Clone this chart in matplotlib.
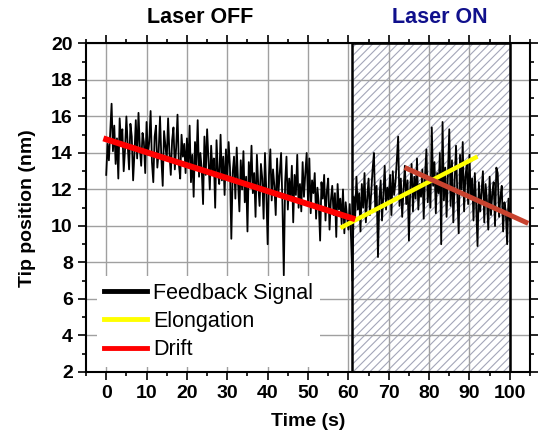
"""
Tip position vs time, laser OFF / laser ON
"""
import numpy as np
import matplotlib
matplotlib.use('Agg')
import matplotlib.pyplot as plt
from matplotlib.ticker import MultipleLocator

plt.rcParams['font.family'] = ['Liberation Sans', 'DejaVu Sans']
plt.rcParams['hatch.linewidth'] = 0.8

tip_nm = [
    # 0-10 s
    12.8, 14.5, 13.6, 15.2, 16.7, 14.1, 15.5, 13.4, 14.8, 12.6, 15.9, 14.6, 15.3, 13.0, 14.2,
    16.0, 14.4, 13.1, 15.6, 14.9, 12.5, 14.0, 15.8, 13.7, 16.2, 14.3, 13.3, 15.1, 14.6, 12.9,
    # 10-20 s
    15.7, 13.9, 14.6, 16.3, 13.5, 12.4, 14.9, 15.5, 13.2, 14.1, 16.0, 13.7, 12.2, 15.2, 14.4,
    13.6, 15.9, 14.0, 12.8, 14.7, 15.4, 13.1, 14.3, 16.1, 13.4, 12.6, 15.0, 13.8, 14.5, 12.9,
    # 20-30 s
    14.8, 13.2, 15.5, 12.4, 13.9, 11.6, 14.6, 13.3, 15.8, 12.7, 14.0, 13.1, 11.2, 14.9, 12.8,
    15.3, 13.6, 12.0, 14.4, 12.9, 13.7, 11.0, 14.7, 13.0, 12.3, 15.0, 12.5, 13.8, 11.7, 14.2,
    # 30-40 s
    12.6, 14.6, 13.2, 9.3, 12.9, 13.8, 11.5, 14.3, 12.4, 10.8, 13.6, 12.0, 14.1, 11.3, 12.7,
    9.7, 13.5, 12.2, 14.4, 11.8, 12.9, 10.5, 13.9, 12.3, 11.1, 13.4, 12.6, 10.4, 14.0, 11.9,
    # 40-50 s
    9.0, 12.8, 14.2, 11.4, 13.1, 12.2, 10.6, 13.7, 11.8, 12.9, 14.0, 11.2, 7.3, 12.4, 13.8,
    10.9, 12.6, 11.5, 13.3, 10.2, 12.8, 11.7, 13.9, 11.0, 12.3, 10.8, 13.5, 11.6, 12.9, 14.0,
    # 50-60 s
    11.3, 13.7, 10.7, 12.5, 11.8, 12.9, 10.4, 12.1, 11.2, 9.2, 12.4, 11.5, 12.8, 10.3, 11.9,
    12.6, 9.8, 11.4, 12.2, 10.6, 11.8, 9.4, 12.3, 10.9, 11.5, 10.1, 12.0, 9.6, 11.3, 10.5,
    # 60-70 s
    9.8, 11.2, 9.3, 7.0, 11.6, 10.4, 12.7, 10.9, 11.8, 9.7, 12.3, 11.0, 12.9, 10.2, 11.5,
    12.6, 10.6, 11.9, 13.1, 14.0, 10.8, 12.2, 8.3, 11.4, 12.5, 10.3, 11.7, 13.3, 10.9, 12.1,
    # 70-80 s
    11.4, 12.8, 10.6, 13.0, 11.7, 12.4, 13.6, 14.9, 11.1, 12.6, 10.5, 12.0, 13.3, 11.2, 12.5,
    9.2, 12.1, 13.4, 10.8, 12.7, 11.5, 13.7, 10.9, 12.3, 11.6, 13.1, 10.4, 12.8, 14.2, 11.3,
    # 80-90 s
    12.6, 11.0, 15.4, 12.2, 13.5, 10.7, 12.9, 11.8, 14.0, 9.0, 15.7, 11.4, 13.2, 10.5, 12.8,
    15.3, 11.1, 13.6, 10.2, 12.4, 14.4, 11.7, 9.6, 13.9, 12.0, 14.6, 10.8, 12.7, 13.4, 11.2,
    # 90-100 s
    13.9, 11.5, 12.6, 10.3, 12.9, 11.1, 8.9, 12.4, 10.8, 11.9, 13.0, 10.2, 12.3, 11.4, 9.8,
    12.7, 10.6, 11.8, 12.4, 10.0, 13.2, 12.9, 10.5, 11.6, 12.2, 9.7, 11.3, 10.8, 9.0, 11.5, 10.3,
]
time_s = np.linspace(0, 100, len(tip_nm))

# Fitted lines (end points)
drift_t = [0, 61]
drift_y = [14.75, 10.42]
elong_t = [58.5, 91.5]
elong_y = [9.95, 13.75]
drift_on_t = [74.5, 104]
drift_on_y = [13.15, 10.2]

laser_on_span = (61, 100)

fig = plt.figure(figsize=(5.39, 4.38), dpi=100)
ax = fig.add_axes([0.1596, 0.1507, 0.8237, 0.75])

# Zona com laser ligado (hachurada)
ax.axvspan(*laser_on_span, facecolor='none', edgecolor='#a4a6b8', hatch='////',
           linewidth=0, zorder=0.2)
ax.axvspan(*laser_on_span, fill=False, edgecolor='black', linewidth=1.8, zorder=1.5)

ax.plot(time_s, tip_nm, color='black', linewidth=1.3, zorder=2, label='Feedback Signal')
ax.plot(elong_t, elong_y, color='#ffff00', linewidth=3.2, zorder=3, label='Elongation')
ax.plot(drift_t, drift_y, color='#ff0000', linewidth=4.3, zorder=3, label='Drift')
ax.plot(drift_on_t, drift_on_y, color='#c8432f', linewidth=3.6, zorder=3)

ax.set_xlim(-5, 105)
ax.set_ylim(2, 20)
ax.xaxis.set_major_locator(MultipleLocator(10))
ax.xaxis.set_minor_locator(MultipleLocator(5))
ax.yaxis.set_major_locator(MultipleLocator(2))
ax.yaxis.set_minor_locator(MultipleLocator(1))
ax.grid(True, which='major', color='#a0a0a0', linewidth=1.0)
ax.set_axisbelow(True)

ax.tick_params(which='both', direction='out', top=True, right=True, width=1.2)
ax.tick_params(which='major', length=6, labelsize=14)
ax.tick_params(which='minor', length=3)
for lab in ax.get_xticklabels() + ax.get_yticklabels():
    lab.set_fontweight('bold')
for sp in ax.spines.values():
    sp.set_linewidth(1.5)

ax.set_xlabel('Time (s)', fontsize=14, fontweight='bold', labelpad=8)
ax.set_ylabel('Tip position (nm)', fontsize=14, fontweight='bold', labelpad=11)

ax.text(0.257, 1.08, 'Laser OFF', transform=ax.transAxes, ha='center', va='center',
        fontsize=15.5, fontweight='bold', color='black')
ax.text(0.797, 1.08, 'Laser ON', transform=ax.transAxes, ha='center', va='center',
        fontsize=15.5, fontweight='bold', color='#10108c')

leg = ax.legend(loc='upper left', bbox_to_anchor=(0.025, 0.291), borderaxespad=0,
                fontsize=15.5, frameon=True, framealpha=1, facecolor='white',
                edgecolor='none', fancybox=False, handlelength=2.0,
                handletextpad=0.3, labelspacing=0.33, borderpad=0.3)
for line in leg.get_lines():
    line.set_linewidth(3.5)

plt.savefig('out.png', dpi=100)
plt.close(fig)
